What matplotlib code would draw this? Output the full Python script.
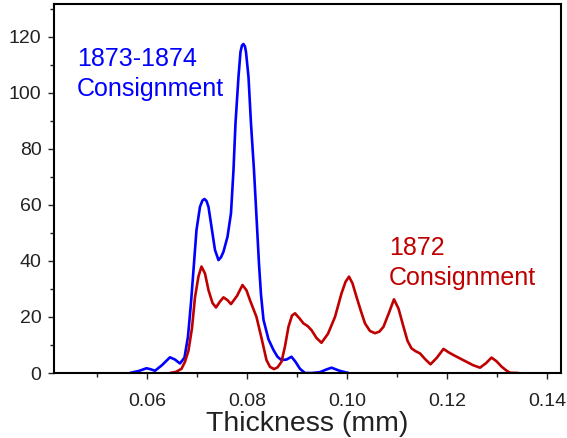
import matplotlib
matplotlib.use("Agg")
import matplotlib.pyplot as plt
from matplotlib.ticker import MultipleLocator

# Blue: 1873-1874 consignment
blue_x = [0.0566, 0.0585, 0.0599, 0.0608, 0.0616, 0.0630, 0.0646, 0.0656, 0.0666, 0.0675,
          0.0682, 0.0688, 0.0693, 0.0699, 0.0706, 0.0711, 0.0715, 0.0719, 0.0723, 0.0729,
          0.0736, 0.0743, 0.0748, 0.0753, 0.0761, 0.0768, 0.0773, 0.0777, 0.0783, 0.0787,
          0.0790, 0.0793, 0.0796, 0.0798, 0.0803, 0.0808, 0.0814, 0.0819, 0.0824, 0.0828,
          0.0833, 0.0843, 0.0853, 0.0861, 0.0869, 0.0879, 0.0889, 0.0897, 0.0906, 0.0916,
          0.0930, 0.0946, 0.0958, 0.0969, 0.0985, 0.1003]
blue_y = [0.0, 0.8, 1.7, 1.3, 0.8, 2.8, 5.6, 4.8, 3.4, 5.5,
          13.0, 25.0, 36.7, 51.0, 59.3, 61.6, 62.1, 61.4, 59.3, 52.2,
          43.9, 40.3, 41.3, 43.3, 48.6, 57.0, 72.4, 89.1, 105.7, 114.6,
          116.9, 117.4, 116.5, 114.6, 105.7, 89.1, 72.4, 55.8, 39.0, 28.0,
          19.0, 12.0, 8.2, 5.8, 4.6, 4.8, 5.8, 4.0, 1.5, 0.0,
          0.0, 0.3, 1.2, 1.9, 0.8, 0.0]

# Red: 1872 consignment
red_x = [0.0646, 0.0658, 0.0669, 0.0676, 0.0683, 0.0690, 0.0696, 0.0703, 0.0709, 0.0716,
         0.0723, 0.0731, 0.0738, 0.0746, 0.0753, 0.0761, 0.0768, 0.0780, 0.0791, 0.0799,
         0.0806, 0.0819, 0.0829, 0.0839, 0.0846, 0.0854, 0.0861, 0.0869, 0.0876, 0.0883,
         0.0890, 0.0896, 0.0905, 0.0913, 0.0921, 0.0929, 0.0939, 0.0949, 0.0962, 0.0976,
         0.0989, 0.0997, 0.1004, 0.1011, 0.1019, 0.1028, 0.1036, 0.1046, 0.1056, 0.1065,
         0.1073, 0.1084, 0.1094, 0.1103, 0.1113, 0.1121, 0.1129, 0.1137, 0.1146, 0.1156,
         0.1167, 0.1180, 0.1193, 0.1203, 0.1213, 0.1226, 0.1239, 0.1252, 0.1266, 0.1278,
         0.1289, 0.1299, 0.1309, 0.1318, 0.1326, 0.1343]
red_y = [0.0, 0.4, 1.5, 4.0, 8.0, 16.0, 27.0, 34.5, 38.0, 35.5,
         29.6, 25.0, 23.4, 25.5, 27.0, 26.0, 24.6, 27.5, 31.4, 29.5,
         26.0, 20.0, 12.5, 4.6, 2.2, 1.4, 2.0, 4.0, 9.5, 16.5,
         20.5, 21.3, 19.5, 17.7, 16.8, 15.3, 12.5, 10.8, 14.0, 20.0,
         28.4, 32.5, 34.4, 32.0, 27.2, 22.0, 17.7, 15.0, 14.2, 14.8,
         16.5, 21.5, 26.3, 23.0, 16.5, 11.5, 8.8, 7.8, 7.0, 5.0,
         3.1, 5.5, 8.6, 7.4, 6.4, 5.2, 4.0, 2.8, 1.9, 3.5,
         5.5, 4.2, 2.3, 1.0, 0.1, 0.0]

x_ticks = [0.06, 0.08, 0.10, 0.12, 0.14]
x_tick_labels = ["0.06", "0.08", "0.10", "0.12", "0.14"]
y_ticks = [0, 20, 40, 60, 80, 100, 120]

plt.rcParams['font.family'] = ['Liberation Sans', 'DejaVu Sans']

fig = plt.figure(figsize=(5.67, 4.38), dpi=100)
ax = fig.add_axes([0.0952, 0.1484, 0.8942, 0.8425])

ax.plot(blue_x, blue_y, color='#0000FF', lw=1.9, solid_capstyle='round', solid_joinstyle='round')
ax.plot(red_x, red_y, color='#C00000', lw=1.9, solid_capstyle='round', solid_joinstyle='round')

ax.set_xlim(0.0414, 0.1428)
ax.set_ylim(0, 131.7)

ax.set_xticks(x_ticks)
ax.set_xticklabels(x_tick_labels)
ax.set_yticks(y_ticks)
ax.xaxis.set_minor_locator(MultipleLocator(0.01))
ax.yaxis.set_minor_locator(MultipleLocator(10))

ax.tick_params(axis='both', which='major', direction='out', length=4, width=1,
               labelsize=14, colors='#222222')
ax.tick_params(axis='x', which='major', pad=10.5)
ax.tick_params(axis='y', which='major', pad=5)
ax.tick_params(axis='both', which='minor', direction='out', length=3, width=1, colors='#222222')
ax.tick_params(top=False, right=False, which='both')

for s in ax.spines.values():
    s.set_linewidth(1.5)
    s.set_color('black')

ax.set_xlabel("Thickness (mm)", fontsize=20.5, color='#222222', labelpad=0.5)

ax.text(0.0460, 98.9, "1873-1874\nConsignment", color='#0000FF', fontsize=18,
        va='baseline', ha='left', linespacing=1.3)
ax.text(0.1084, 31.4, "1872\nConsignment", color='#C00000', fontsize=18,
        va='baseline', ha='left', linespacing=1.3)

fig.savefig("out.png", dpi=100)
